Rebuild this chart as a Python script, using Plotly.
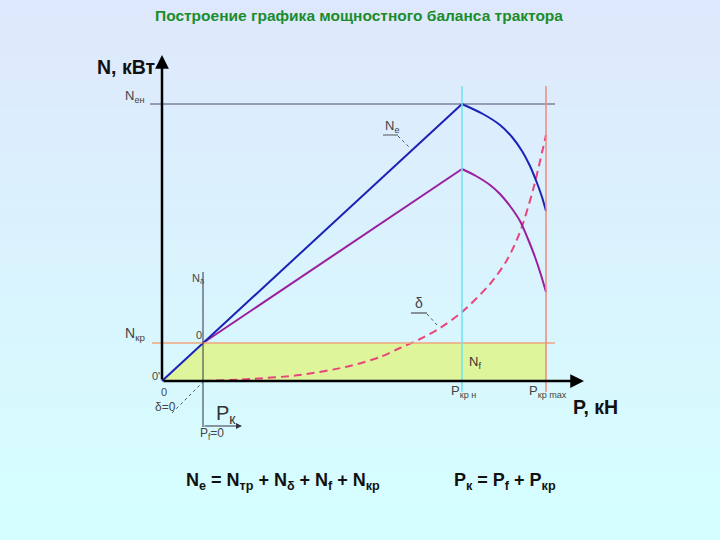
import plotly.graph_objects as go

# ---------------- data (schematic units: P in kN, N in kW) ----------------
P_f0 = 4.1        # P_f = 0 (start of the tractive part)
N_kr_level = 3.8  # N_кр level
P_nom = 30.0      # P_кр н
P_max = 38.4      # P_кр max
N_emax = 27.7     # N_e max

# N_e curve (blue): straight part + falling part
Ne_P = [0.0, 30.0, 32.1, 33.8, 35.0, 36.0, 36.8, 37.5, 38.0, 38.4]
Ne_N = [0.0, 27.7, 26.7, 25.6, 24.4, 23.0, 21.5, 19.8, 18.4, 17.0]

# N_кр-type curve (purple)
Nk_P = [4.1, 30.0, 31.4, 32.8, 33.8, 34.8, 35.8, 36.6, 37.3, 37.9, 38.4]
Nk_N = [3.8, 21.2, 20.5, 19.6, 18.7, 17.5, 16.0, 14.2, 12.4, 10.6, 8.9]

# slip curve delta (dashed)
d_P = [4.1, 8.8, 13.8, 18.8, 21.8, 23.8, 25.8, 27.8, 30.0, 32.8, 34.5, 35.8, 37.1, 38.4]
d_N = [0.0, 0.2, 0.6, 1.5, 2.4, 3.3, 4.2, 5.3, 6.9, 9.7, 12.1, 14.9, 19.1, 24.6]

W, H = 720, 540
X0, Y0, S = 162, 381, 10.0   # origin pixel & pixels per unit (layout only)


def dx(px):
    return (px - X0) / S


def dy(py):
    return (Y0 - py) / S


FONT = "Liberation Sans, Arial, sans-serif"

fig = go.Figure()

# green region
fig.add_trace(go.Scatter(
    x=[0, P_f0, P_max, P_max, 0], y=[0, N_kr_level, N_kr_level, 0, 0],
    fill="toself", fillcolor="#dff59c", line=dict(width=0), mode="lines",
    hoverinfo="skip", showlegend=False))

# dashed delta curve
fig.add_trace(go.Scatter(x=d_P, y=d_N, mode="lines",
                         line=dict(color="#e8457a", width=2, dash="8px,5px",
                                   shape="spline", smoothing=0.8),
                         showlegend=False))
# purple curve
fig.add_trace(go.Scatter(x=Nk_P[:2], y=Nk_N[:2], mode="lines",
                         line=dict(color="#9a1e9e", width=2), showlegend=False))
fig.add_trace(go.Scatter(x=Nk_P[1:], y=Nk_N[1:], mode="lines",
                         line=dict(color="#9a1e9e", width=2, shape="spline", smoothing=0.7),
                         showlegend=False))
# blue curve
fig.add_trace(go.Scatter(x=Ne_P[:2], y=Ne_N[:2], mode="lines",
                         line=dict(color="#1b22b5", width=2), showlegend=False))
fig.add_trace(go.Scatter(x=Ne_P[1:], y=Ne_N[1:], mode="lines",
                         line=dict(color="#1b22b5", width=2, shape="spline", smoothing=0.7),
                         showlegend=False))

shapes = []
# gradient background
top = (222, 232, 252)
bot = (213, 255, 255)
n = 60
for i in range(n):
    t = i / (n - 1)
    c = tuple(int(round(top[k] + (bot[k] - top[k]) * t)) for k in range(3))
    shapes.append(dict(type="rect", xref="paper", yref="paper", layer="below",
                       x0=0, x1=1, y0=1 - (i + 1) / n - 0.002, y1=1 - i / n,
                       fillcolor="rgb(%d,%d,%d)" % c, line=dict(width=0)))


def seg(x0, y0, x1, y1, color, width=1, dash=None):
    ln = dict(color=color, width=width)
    if dash:
        ln["dash"] = dash
    shapes.append(dict(type="line", xref="x", yref="y", x0=x0, y0=y0, x1=x1, y1=y1,
                       line=ln, layer="above"))


# reference lines
seg(dx(150), N_emax, dx(555), N_emax, "#4d4d70", 1)
seg(dx(152), N_kr_level, dx(555), N_kr_level, "#f0a47e", 1.5)
seg(P_nom, dy(392), P_nom, dy(86), "#6fe2f0", 1.5)
seg(P_max, dy(392), P_max, dy(86), "#f08a7a", 1.5)
seg(P_f0, dy(427), P_f0, dy(272), "#333344", 1)
# leader lines
seg(dx(383), dy(135), dx(398), dy(135), "#555555", 1)
seg(dx(398), dy(136), dx(410), dy(148), "#555555", 1, "dot")
seg(dx(411), dy(313), dx(427), dy(313), "#333333", 1)
seg(dx(427), dy(314), dx(438), dy(326), "#555555", 1, "dot")
seg(dx(172), dy(413), dx(203), dy(382), "#555555", 1, "dot")

anns = []
# axes arrows
anns.append(dict(x=dx(584), y=0, ax=0, ay=0, xref="x", yref="y", axref="x", ayref="y",
                 text="", showarrow=True, arrowhead=2, arrowsize=1.1, arrowwidth=2.5,
                 arrowcolor="black"))
anns.append(dict(x=0, y=dy(55), ax=0, ay=0, xref="x", yref="y", axref="x", ayref="y",
                 text="", showarrow=True, arrowhead=2, arrowsize=1.1, arrowwidth=2.5,
                 arrowcolor="black"))
anns.append(dict(x=dx(242), y=dy(426), ax=P_f0, ay=dy(426), xref="x", yref="y",
                 axref="x", ayref="y", text="", showarrow=True, arrowhead=2,
                 arrowsize=1.2, arrowwidth=1, arrowcolor="#333344"))


def txt(px, py, s, size, color="#333333", anchor="center", bold=False):
    if bold:
        s = "<b>" + s + "</b>"
    anns.append(dict(x=px / W, y=1 - py / H, xref="paper", yref="paper", text=s,
                     showarrow=False, xanchor=anchor, yanchor="middle",
                     font=dict(family=FONT, size=size, color=color)))


txt(359, 15, "Построение графика мощностного баланса трактора", 15.5, "#1b8c2b", bold=True)
txt(126, 67, "N, кВт", 19.5, "#111111", bold=True)
txt(595, 407, "P, кН", 19.5, "#111111", bold=True)
txt(123, 97, "N<sub>ен</sub>", 13, "#444444", anchor="left")
txt(123, 334, "N<sub>кр</sub>", 14, "#444444", anchor="left")
txt(198, 279, "N<sub>δ</sub>", 11, "#444444")
txt(199, 335, "0", 11, "#444444")
txt(156, 376, "0'", 11, "#444444")
txt(164, 392, "0", 11, "#444444")
txt(165, 407, "δ=0", 12, "#444444")
txt(212, 434, "P<sub>f</sub>=0", 12, "#444444")
txt(226, 414, "P<sub>к</sub>", 20, "#333333")
txt(392, 127, "N<sub>е</sub>", 13, "#444444")
txt(419, 303, "δ", 14, "#444444")
txt(475, 362, "N<sub>f</sub>", 13, "#333333")
txt(463, 391, "P<sub>кр н</sub>", 13, "#444444")
txt(548, 391, "P<sub>кр max</sub>", 13, "#444444")
txt(283, 481, "N<sub>е</sub> = N<sub>тр</sub> + N<sub>δ</sub> + N<sub>f</sub> + N<sub>кр</sub>",
    18, "#111111", bold=True)
txt(505, 481, "P<sub>к</sub> = P<sub>f</sub> + P<sub>кр</sub>", 18, "#111111", bold=True)

fig.update_layout(
    width=W, height=H, margin=dict(l=0, r=0, t=0, b=0),
    paper_bgcolor="rgb(218,240,253)", plot_bgcolor="rgba(0,0,0,0)",
    xaxis=dict(range=[dx(0), dx(W)], visible=False, fixedrange=True),
    yaxis=dict(range=[dy(H), dy(0)], visible=False, fixedrange=True),
    shapes=shapes, annotations=anns, showlegend=False)

fig.write_html("out.html", config={"displayModeBar": False},
               post_script="document.body.style.margin='0';document.body.style.overflow='hidden';")
